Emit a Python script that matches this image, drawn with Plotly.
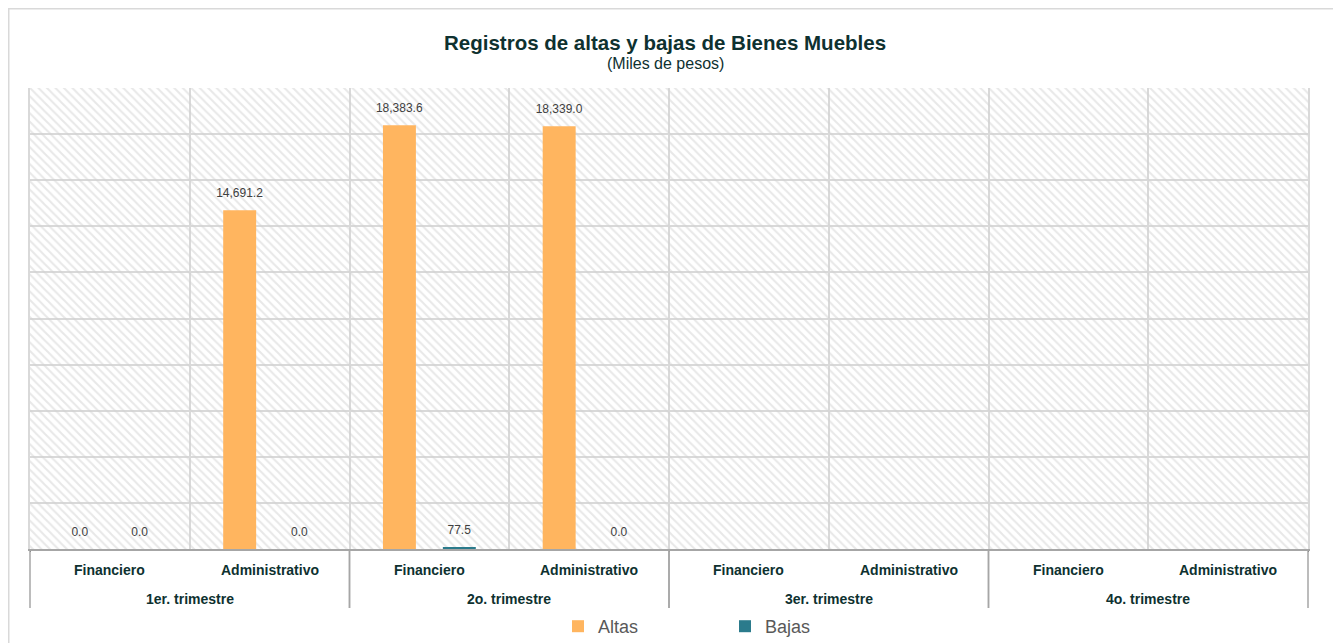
import plotly.graph_objects as go

trimestres = ["1er. trimestre", "1er. trimestre", "2o. trimestre", "2o. trimestre",
              "3er. trimestre", "3er. trimestre", "4o. trimestre", "4o. trimestre"]
areas = ["Financiero", "Administrativo"] * 4
altas = [0.0, 14691.2, 18383.6, 18339.0, None, None, None, None]
bajas = [0.0, 0.0, 77.5, 0.0, None, None, None, None]

title = "Registros de altas y bajas de Bienes Muebles"
subtitle = "(Miles de pesos)"

FONT = "Liberation Sans, Arial, sans-serif"
DARK = "#0E3130"
W, H = 1333, 635
ML, MR, MT, MB = 22, 33, 80, 94
PW, PH = W - ML - MR, H - MT - MB


def py(pix):  # figure pixel row -> paper y
    return (H - MB - pix) / PH


def px(pix):  # figure pixel column -> paper x
    return (pix - ML) / PW


fig = go.Figure()

# hatched plot-area background (decoration on hidden base axes)
fig.add_trace(go.Bar(
    x=[0.5], y=[1], width=[1], xaxis="x", yaxis="y",
    marker=dict(color="rgba(255,255,255,0)", line=dict(width=0),
                pattern=dict(shape="\\", fgcolor="#d2d2d2", bgcolor="rgba(255,255,255,0)",
                             size=6, solidity=0.35, fillmode="overlay")),
    showlegend=False, hoverinfo="skip",
))

label_tpl = "<span style='font-size:12px'>%{y:,.1f}</span><br> "
for name, vals, col in [("Altas", altas, "#FFB55F"), ("Bajas", bajas, "#2B7B8C")]:
    fig.add_trace(go.Bar(
        name=name, x=[trimestres, areas], y=vals, xaxis="x2", yaxis="y2",
        marker=dict(color=col, line=dict(width=0)),
        texttemplate=label_tpl, textposition="outside", textangle=0,
        constraintext="none", cliponaxis=False,
        textfont=dict(family=FONT, size=7, color="#404040"),
    ))

n = len(areas)
annotations = [
    dict(text="<b>" + title + "</b>", x=px(657), y=py(34), xref="paper", yref="paper",
         xanchor="center", showarrow=False, yanchor="middle",
         font=dict(family=FONT, size=20.5, color=DARK)),
    dict(text=subtitle, x=px(657), y=py(55), xref="paper", yref="paper",
         xanchor="center", showarrow=False, yanchor="middle",
         font=dict(family=FONT, size=16, color=DARK)),
]
# category labels (level 1)
for i, a in enumerate(areas):
    annotations.append(dict(
        text="<b>" + a + "</b>", x=(i + 0.5) / n, y=py(562), xref="paper", yref="paper",
        xanchor="center", showarrow=False, yanchor="middle",
        font=dict(family=FONT, size=14, color=DARK)))
# group labels (level 2) and dividers
groups = []
for i, t in enumerate(trimestres):
    if not groups or groups[-1][0] != t:
        groups.append([t, i, i])
    else:
        groups[-1][2] = i
shapes = []
for t, i0, i1 in groups:
    annotations.append(dict(
        text="<b>" + t + "</b>", x=(i0 + i1 + 1) / 2 / n, y=py(591), xref="paper", yref="paper",
        xanchor="center", showarrow=False, yanchor="middle",
        font=dict(family=FONT, size=14, color=DARK)))
    for b in (i0, i1 + 1):
        shapes.append(dict(type="line", xref="paper", yref="paper", x0=b / n, x1=b / n,
                           y0=0, y1=py(600), line=dict(color="#a6a6a6", width=1.5)))

shapes.append(dict(type="rect", xref="paper", yref="paper",
                   x0=px(0.75), x1=px(1329), y0=py(660), y1=py(0.75),
                   line=dict(color="#d9d9d9", width=1.5), fillcolor="rgba(0,0,0,0)", layer="below"))

fig.update_layout(
    width=W, height=H,
    margin=dict(l=ML, r=MR, t=MT, b=MB, pad=0, autoexpand=False),
    paper_bgcolor="white", plot_bgcolor="white",
    font=dict(family=FONT, color=DARK),
    barmode="group", bargap=0.25, bargroupgap=0.45,
    xaxis=dict(range=[0, 1], visible=False, fixedrange=True),
    yaxis=dict(range=[0, 1], visible=False, fixedrange=True),
    xaxis2=dict(
        type="multicategory", overlaying="x", anchor="y2", side="bottom",
        showgrid=True, gridcolor="#d9d9d9", gridwidth=1.5, tickson="boundaries",
        ticks="", showticklabels=False, showline=True, linecolor="#a6a6a6", linewidth=1.5,
        automargin=False,
    ),
    yaxis2=dict(
        overlaying="y", anchor="x2", range=[0, 20000], dtick=2000,
        showticklabels=False, showgrid=True, gridcolor="#d9d9d9", gridwidth=1.5,
        zeroline=False, ticks="", showline=True, mirror=True, linecolor="#d9d9d9", linewidth=1.5,
        automargin=False,
    ),
    legend=dict(orientation="h", x=px(550), xanchor="left", y=-77.5 / PH,
                yanchor="middle", font=dict(family=FONT, size=18, color="#595959"),
                entrywidth=122, entrywidthmode="pixels", bgcolor="rgba(0,0,0,0)"),
    annotations=annotations,
    shapes=shapes,
)

fig.write_html("out.html")
